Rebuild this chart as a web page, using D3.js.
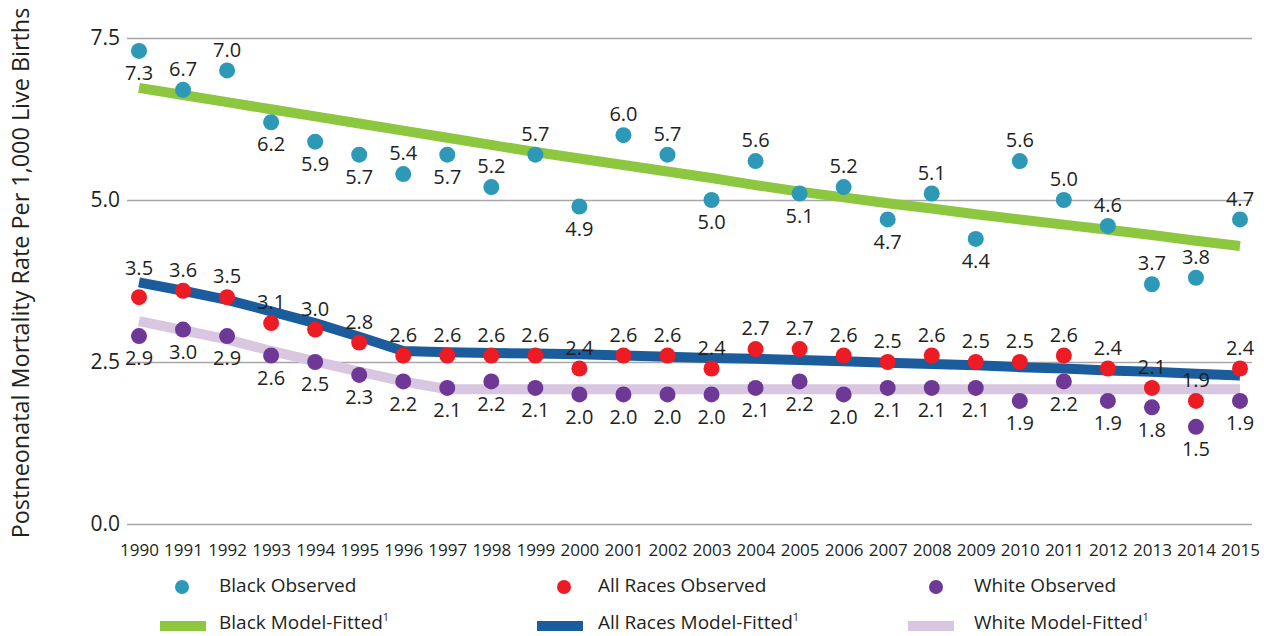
<!DOCTYPE html>
<html><head><meta charset="utf-8">
<script src="https://cdn.jsdelivr.net/npm/d3@7"></script>
<style>
html,body{margin:0;padding:0;background:#fff;}
svg{display:block;font-family:"Open Sans",sans-serif;}
</style></head><body>
<svg id="chart" width="1264" height="636"></svg>
<script>
// ---------- data ----------
const years = [1990,1991,1992,1993,1994,1995,1996,1997,1998,1999,2000,2001,2002,2003,2004,2005,2006,2007,2008,2009,2010,2011,2012,2013,2014,2015];
const yTicks = [0, 2.5, 5, 7.5];

const blackObserved = [7.3,6.7,7.0,6.2,5.9,5.7,5.4,5.7,5.2,5.7,4.9,6.0,5.7,5.0,5.6,5.1,5.2,4.7,5.1,4.4,5.6,5.0,4.6,3.7,3.8,4.7];
const allRacesObserved = [3.5,3.6,3.5,3.1,3.0,2.8,2.6,2.6,2.6,2.6,2.4,2.6,2.6,2.4,2.7,2.7,2.6,2.5,2.6,2.5,2.5,2.6,2.4,2.1,1.9,2.4];
const whiteObserved = [2.9,3.0,2.9,2.6,2.5,2.3,2.2,2.1,2.2,2.1,2.0,2.0,2.0,2.0,2.1,2.2,2.0,2.1,2.1,2.1,1.9,2.2,1.9,1.8,1.5,1.9];

const blackFitted = [6.73,6.62,6.51,6.40,6.29,6.18,6.07,5.96,5.85,5.74,5.64,5.54,5.44,5.34,5.23,5.13,5.04,4.95,4.87,4.78,4.70,4.62,4.54,4.46,4.37,4.29];
const allRacesFitted = [3.73,3.60,3.46,3.28,3.10,2.89,2.67,2.65,2.64,2.63,2.62,2.60,2.58,2.56,2.55,2.53,2.51,2.49,2.47,2.45,2.42,2.40,2.37,2.35,2.32,2.29];
const whiteFitted = [3.13,2.99,2.85,2.67,2.51,2.35,2.20,2.08,2.08,2.08,2.08,2.08,2.08,2.08,2.08,2.08,2.08,2.08,2.08,2.08,2.08,2.08,2.08,2.08,2.08,2.08];

// label placement: a = above, A = further above, b = below
const blackLabelPos = ['b','a','a','b','b','b','a','b','a','a','b','a','a','b','a','b','a','b','a','b','a','a','a','a','a','a'];
const allLabelPos   = ['A','a','a','a','a','a','a','a','a','a','a','a','a','a','a','a','a','a','a','a','a','a','a','a','a','a'];
const whiteLabelPos = ['b','b','b','b','b','b','b','b','b','b','b','b','b','b','b','b','b','b','b','b','b','b','b','b','b','b'];

const legendItems = [
  {label:"Black Observed", type:"dot", color:"#2E99B6"},
  {label:"All Races Observed", type:"dot", color:"#ED1C24"},
  {label:"White Observed", type:"dot", color:"#6E3996"},
  {label:"Black Model-Fitted", type:"line", color:"#8DC63F"},
  {label:"All Races Model-Fitted", type:"line", color:"#1A5C9C"},
  {label:"White Model-Fitted", type:"line", color:"#D9C6E0"}
];

// ---------- layout ----------
const TEXT = "#231F20";
const svg = d3.select("#chart");
const x = d3.scaleLinear().domain([1990, 2015]).range([139, 1240]);
const y = d3.scaleLinear().domain([0, 7.5]).range([524, 38]);

// gridlines + y labels
const gy = svg.append("g").attr("transform", "translate(127,0)")
  .call(d3.axisLeft(y).tickValues(yTicks).tickFormat(d3.format(".1f")).tickSize(-1125).tickPadding(7));
gy.select(".domain").remove();
gy.selectAll(".tick line").attr("stroke", "#A7A7A9").attr("stroke-width", 1.5);
gy.selectAll(".tick text").attr("fill", TEXT).attr("font-size", 21).attr("font-family", "Open Sans");

// x labels
const gx = svg.append("g").attr("transform", "translate(0,524)")
  .call(d3.axisBottom(x).tickValues(years).tickFormat(d3.format("d")).tickSize(0).tickPadding(20));
gx.select(".domain").remove();
gx.selectAll(".tick text").attr("fill", TEXT).attr("font-size", 17).attr("font-family", "Open Sans");

// y title
svg.append("text")
  .attr("transform", "translate(29,273) rotate(-90)")
  .attr("text-anchor", "middle")
  .attr("font-size", 23.4).attr("fill", TEXT)
  .text("Postneonatal Mortality Rate Per 1,000 Live Births");

// fitted lines
const line = d3.line().x((d, i) => x(years[i])).y(d => y(d));
[[blackFitted, "#8DC63F"], [whiteFitted, "#D9C6E0"], [allRacesFitted, "#1A5C9C"]].forEach(([vals, col]) => {
  svg.append("path").datum(vals).attr("d", line)
    .attr("fill", "none").attr("stroke", col).attr("stroke-width", 10)
    .attr("stroke-linejoin", "round").attr("stroke-linecap", "butt");
});

// observed dots + labels
function drawSeries(vals, pos, col) {
  const g = svg.append("g");
  g.selectAll("circle").data(vals).join("circle")
    .attr("cx", (d, i) => x(years[i])).attr("cy", d => y(d)).attr("r", 8).attr("fill", col);
  g.selectAll("text").data(vals).join("text")
    .attr("x", (d, i) => x(years[i]))
    .attr("y", (d, i) => y(d) + (pos[i] === 'b' ? 22 : pos[i] === 'A' ? -29 : -21))
    .attr("dy", "0.36em")
    .attr("text-anchor", "middle").attr("font-size", 20).attr("fill", TEXT)
    .text(d => d.toFixed(1));
}
drawSeries(blackObserved, blackLabelPos, "#2E99B6");
drawSeries(allRacesObserved, allLabelPos, "#ED1C24");
drawSeries(whiteObserved, whiteLabelPos, "#6E3996");

// legend
const colRect = [160, 537, 908];
const colDot = [182, 564, 936];
const colText = [219, 598, 974];
const rowY = [587, 624];
legendItems.forEach((it, k) => {
  const c = k % 3, r = Math.floor(k / 3);
  const g = svg.append("g");
  if (it.type === "dot") {
    g.append("circle").attr("cx", colDot[c]).attr("cy", rowY[r]).attr("r", 7).attr("fill", it.color);
  } else {
    g.append("rect").attr("x", colRect[c]).attr("y", rowY[r] - 3).attr("width", 46).attr("height", 10).attr("fill", it.color);
  }
  const t = g.append("text").attr("x", colText[c]).attr("y", rowY[r] + 5)
    .attr("font-size", 19).attr("fill", TEXT).text(it.label);
  if (it.type === "line") {
    t.append("tspan").attr("font-size", 11).attr("dy", -8).text("1");
  }
});
</script>
</body></html>
